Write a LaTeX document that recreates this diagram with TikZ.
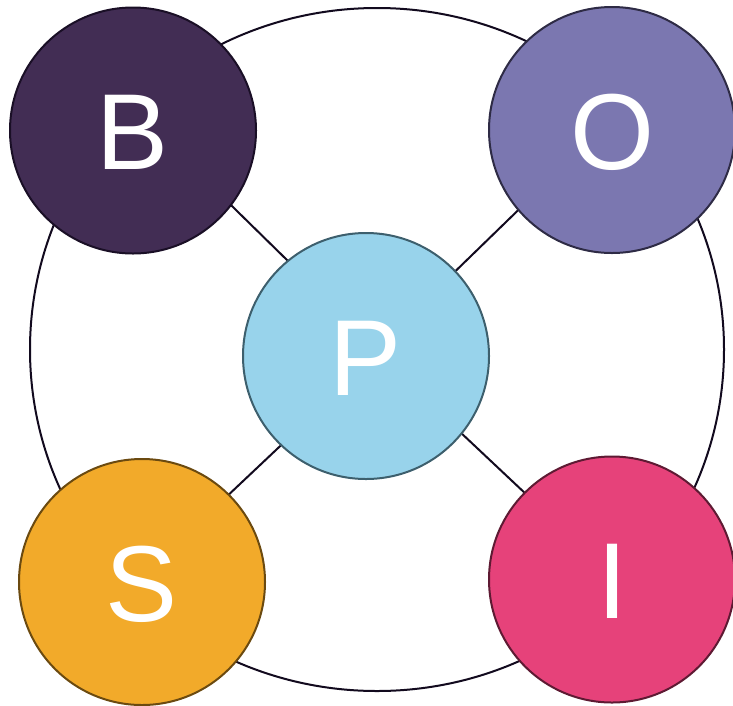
\documentclass[tikz,border=0pt]{standalone}
\usepackage{fontspec}
\setmainfont{Liberation Sans}
\definecolor{cB}{HTML}{422D54}
\definecolor{cBd}{HTML}{1A0F26}
\definecolor{cO}{HTML}{7B77B0}
\definecolor{cOd}{HTML}{2E2B45}
\definecolor{cP}{HTML}{98D3EB}
\definecolor{cPd}{HTML}{3D5F6D}
\definecolor{cS}{HTML}{F2AA2A}
\definecolor{cSd}{HTML}{6B4A10}
\definecolor{cI}{HTML}{E6427A}
\definecolor{cId}{HTML}{5E1A33}
\definecolor{ln}{HTML}{120A1E}
\begin{document}
\begin{tikzpicture}[x=1pt,y=-1pt,
  ball/.style={circle,minimum size=246pt,inner sep=0pt,line width=2pt,text=white,font=\fontsize{108}{120}\selectfont},
  lbl/.style={text=white,font=\fontsize{108}{120}\selectfont,inner sep=0pt,yshift=-2pt},
  link/.style={draw=ln,line width=2pt}]
\useasboundingbox (0,0) rectangle (733,705);
\draw[ln,line width=2pt] (377,349.5) ellipse [x radius=347, y radius=341.5];
% connector end points (hidden under the discs)
\coordinate (b1) at (133,109);
\coordinate (p1) at (366,337.5);
\coordinate (o2) at (612,119);
\coordinate (p2) at (366,358);
\coordinate (s3) at (142,576.5);
\coordinate (p3) at (366,365);
\coordinate (i4) at (612,575);
\coordinate (p4) at (366,343.5);
\draw[link] (p1) -- (b1);
\draw[link] (p2) -- (o2);
\draw[link] (p3) -- (s3);
\draw[link] (p4) -- (i4);
\node[ball,fill=cB,draw=cBd] (B) at (133,130.5) {};
\node[ball,fill=cO,draw=cOd] (O) at (612,130) {};
\node[ball,fill=cP,draw=cPd] (P) at (366,356) {};
\node[ball,fill=cS,draw=cSd] (S) at (142,582) {};
\node[ball,fill=cI,draw=cId] (I) at (612,579.5) {};
\node[lbl] (tB) at (B) {B};
\node[lbl] (tO) at (O) {O};
\node[lbl] (tP) at (P) {P};
\node[lbl] (tS) at (S) {S};
\node[lbl] (tI) at (I) {I};
\end{tikzpicture}
\end{document}
